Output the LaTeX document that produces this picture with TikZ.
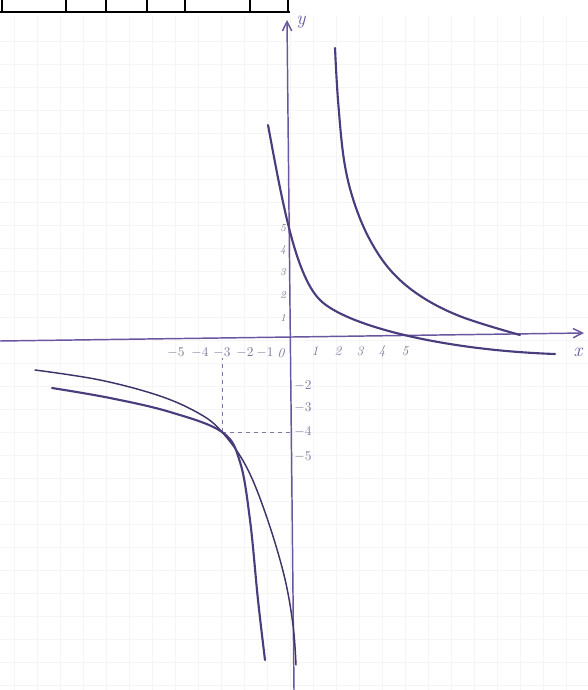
\documentclass[tikz,border=0pt]{standalone}
\usetikzlibrary{arrows.meta}
\definecolor{pen}{RGB}{105,85,160}
\definecolor{ink}{RGB}{75,60,125}
\definecolor{pencil}{RGB}{130,120,160}
\tikzset{
  gridline/.style={black!4,line width=0.4pt},
  axis/.style={pen,line width=1.1pt,-{Straight Barb[length=7pt,width=7pt]}},
  curve/.style={ink,line width=1.6pt,line cap=round},
  thincurve/.style={ink!85!black,line width=1.1pt,line cap=round},
  guide/.style={pencil,dashed,line width=0.6pt},
  ticklab/.style={pencil,font=\normalsize\itshape,inner sep=0pt}
}
\begin{document}
\begin{tikzpicture}[x=0.75pt,y=-0.75pt]
\useasboundingbox (0,0) rectangle (588,690);
    % squared paper
    \foreach \gx in {14,37,...,588} \draw[gridline] (\gx,16) -- (\gx,690);
    \foreach \gy in {41,64,...,690} \draw[gridline] (0,\gy) -- (588,\gy);

    % table edge at the top
    \draw[black,line width=1.6pt] (0,12) -- (290,12);
    \foreach \tx in {2,66,106,147,185,250,288} \draw[black,line width=1.4pt] (\tx,0) -- (\tx,12);

    % axes
    \coordinate (xstart) at (0,341);
    \coordinate (xend) at (584,333);
    \coordinate (ystart) at (294,690);
    \coordinate (yend) at (287,20);
    \draw[axis] (xstart) -- (xend);
    \draw[axis] (ystart) -- (yend);
    \node[pen,font=\Large\itshape] (ylab) at (301,22) {y};
    \node[pen,font=\Large\itshape] (xlab) at (578,352) {x};

    % labels on the x axis
    \foreach \v/\px/\nm in {-5/176/m5,-4/200/m4,-3/222/m3,-2/245/m2,-1/265/m1}
        \node[ticklab] (xt\nm) at (\px,353) {$\v$};
    \node[ticklab] (xt0) at (281,353) {0};
    \foreach \v/\px in {1/315,2/338,3/360,4/382,5/405}
        \node[ticklab] (xt\v) at (\px,351) {\v};

    % labels on the y axis
    \foreach \v/\py in {5/228,4/250,3/272,2/295,1/318}
        \node[ticklab,font=\footnotesize\itshape] (yt\v) at (283,\py) {\v};
    \foreach \v/\py in {2/386,3/408,4/432,5/457}
        \node[ticklab] (ytm\v) at (303,\py) {$-\v$};

    % common point (-3,-4)
    \coordinate (meet) at (222,432);
    \draw[guide] (meet) -- (xtm3.south);
    \draw[guide] (meet) -- (291,432);

    % first hyperbola, right branch
    \draw[curve] plot[smooth,tension=0.6] coordinates {(335,48) (338,100) (344,160) (354,202) (370,240) (392,272) (422,297) (462,317) (520,335)};
    % first hyperbola, left branch
    \draw[thincurve] plot[smooth,tension=0.6] coordinates {(35,370) (100,380) (160,396) (200,414) (meet) (246,466) (266,515) (284,575) (293,625) (296,665)};

    % second hyperbola, right branch
    \coordinate (bstart) at (268,125);
    \coordinate (bknee) at (320,300);
    \coordinate (bend) at (555,354);
    \draw[curve] (bstart) .. controls (282,200) and (295,275) .. (bknee)
                          .. controls (345,325) and (440,350) .. (bend);
    % second hyperbola, left branch
    \draw[curve] plot[smooth,tension=0.6] coordinates {(52,388) (110,398) (170,412) (meet) (240,462) (250,520) (258,600) (265,660)};
\end{tikzpicture}
\end{document}
